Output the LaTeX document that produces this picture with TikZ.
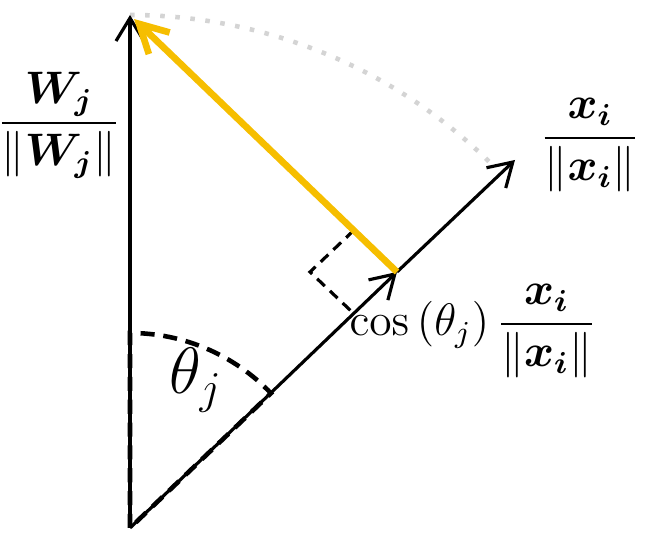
\documentclass[tikz,border=0pt]{standalone}
\usepackage{amsmath}
\usepackage{bm}
\usetikzlibrary{calc,arrows.meta}
\definecolor{projyellow}{RGB}{246,190,0}
\definecolor{arcgray}{RGB}{212,212,212}
\tikzset{
	vec/.style={line width=0.9pt, -{Straight Barb[length=2.3mm,width=2.8mm,line width=0.9pt]}},
	proj/.style={line width=1.9pt, projyellow, -{Straight Barb[length=2.8mm,width=3mm,line width=1.9pt]}},
	anglemark/.style={line width=1.3pt, dashed, dash pattern=on 4pt off 2.5pt},
	rightmark/.style={line width=0.9pt, dash pattern=on 3pt off 2pt},
	lbl/.style={scale=1.08},
}

\begin{document}
\begin{tikzpicture}
		%%%%% START %%%%%
		\useasboundingbox (0,0) rectangle (6.72,5.44);
		
		\coordinate (O) at (1.30, 0.16);
		\coordinate (W) at (1.30, 5.29);
		\coordinate (X) at (5.15, 3.84);
		\coordinate (P) at (3.97, 2.72);
		
		% dotted unit circle
		\draw[arcgray, line width=1.3pt, dash pattern=on 1.3pt off 3pt] (W) arc (90:44.5:5.13);
		
		% angle theta
		\draw[anglemark] (O) -- ($(O)+(0,1.95)$) arc (90:43.7:1.95) -- (O);
		
		% vectors
		\draw[vec] (O) -- (W);
		\draw[vec] (O) -- (P);
		\draw[vec] (P) -- (X);
		
		% right angle
		\draw[rightmark] ($(P)!0.6cm!(W)$) -- ($(P)+(-0.87,0)$) -- ($(P)!0.6cm!(O)$);
		
		% projection
		\draw[proj] (P) -- ($(W)+(0.04,-0.04)$);
		
		\node[lbl] (wlabel) at (0.59, 4.19) {\large$\dfrac{\bm{W_j}}{\|\bm{W_j}\|}$};
		\node[lbl] (xlabel) at (5.90, 3.99) {\large$\dfrac{\bm{x_i}}{\|\bm{x_i}\|}$};
		\node[lbl] (plabel) at (4.73, 2.13) {\large$\cos\left(\theta_j\right)\dfrac{\bm{x_i}}{\|\bm{x_i}\|}$};
		\node[lbl] (tlabel) at (1.96, 1.64) {\LARGE$\theta_j$};
		%%%%% END %%%%%
	\end{tikzpicture}
\end{document}
